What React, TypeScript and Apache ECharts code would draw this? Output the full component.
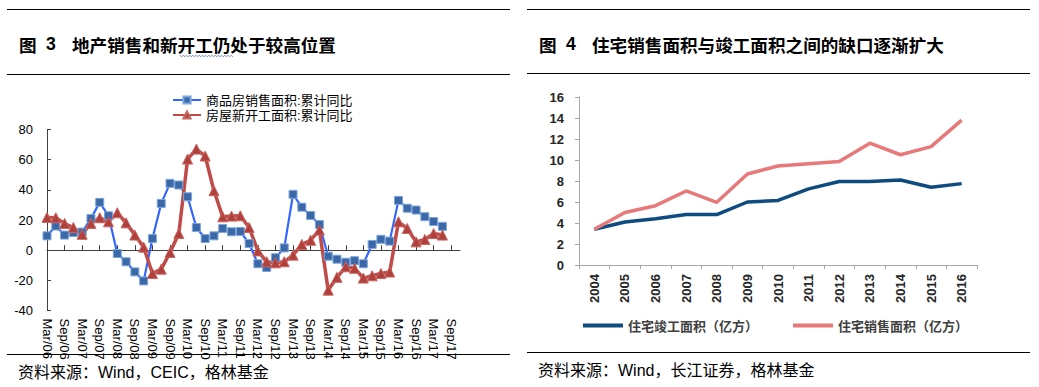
import { useEffect, useRef } from "react";
import * as echarts from "echarts";

// ---------- Data: Figure 3 (quarterly cumulative YoY, %) ----------
const quarterMonths = ["Mar", "Jun", "Sep", "Dec"];
const quarterYears = ["06", "07", "08", "09", "10", "11", "12", "13", "14", "15", "16", "17"];
const quarterCategories = quarterYears.flatMap((y) => quarterMonths.map((m) => `${m}/${y}`));

const salesSeriesName = "商品房销售面积:累计同比";
const startsSeriesName = "房屋新开工面积:累计同比";

const salesAreaYoY = [
  9.5, 16, 10, 11.7, 12, 21, 31.7, 22.8, -2.2, -7.7, -14.4, -20.4,
  7.7, 31, 44.3, 43.2, 35.4, 15, 7.7, 9.5, 14.4, 12.2, 12.4, 4.4,
  -9, -11.5, -5, 1.5, 37, 28.5, 23, 17, -4, -6, -8, -7,
  -9, 3.8, 7.2, 6, 33, 27.8, 26.6, 22.2, 19, 15.8,
];
const newStartsYoY = [
  21.7, 21.5, 17.7, 15, 10.5, 17.7, 21.5, 18.8, 24.8, 18.1, 10, 2,
  -15.5, -12.6, -1.5, 11, 60.4, 67, 62.4, 39.4, 22.1, 22.6, 22.8, 15,
  -0.5, -7.7, -8.4, -7.7, -3.3, 3.8, 6.6, 13.3, -26.5, -18, -11, -12,
  -18.5, -17, -15.5, -14.5, 18.8, 14.4, 5.5, 7.1, 11, 10,
];
const leftYMin = -40;
const leftYMax = 80;
const leftYStep = 20;

// ---------- Data: Figure 4 (annual, 亿方) ----------
const years = ["2004", "2005", "2006", "2007", "2008", "2009", "2010", "2011", "2012", "2013", "2014", "2015", "2016"];
const completedSeriesName = "住宅竣工面积（亿方）";
const soldSeriesName = "住宅销售面积（亿方）";
const completedArea = [3.4, 4.1, 4.4, 4.8, 4.8, 6.0, 6.15, 7.25, 7.95, 7.95, 8.1, 7.4, 7.75];
const soldArea = [3.4, 5.0, 5.65, 7.05, 5.97, 8.67, 9.43, 9.65, 9.85, 11.6, 10.5, 11.27, 13.8];
const rightYMin = 0;
const rightYMax = 16;
const rightYStep = 2;

// ---------- Texts ----------
const leftFigNo = ["图", "3"];
const leftTitle = "地产销售和新开工仍处于较高位置";
const rightFigNo = ["图", "4"];
const rightTitle = "住宅销售面积与竣工面积之间的缺口逐渐扩大";
const leftSource = "资料来源：Wind，CEIC，格林基金";
const rightSource = "资料来源：Wind，长江证券，格林基金";

const LATIN = "'Liberation Sans', 'Noto Sans CJK SC', sans-serif";
const CJK = "'Noto Sans CJK SC', 'Liberation Sans', sans-serif";

function hLine(x1: number, x2: number, y: number) {
  return {
    type: "line",
    silent: true,
    shape: { x1, y1: y, x2, y2: y },
    style: { stroke: "#000", lineWidth: 1 },
  };
}

function txt(x: number, y: number, text: string, size: number, bold: boolean, family = CJK) {
  return {
    type: "text",
    silent: true,
    x,
    y,
    style: {
      text,
      fontSize: size,
      fontWeight: bold ? "bold" : "normal",
      fontFamily: family,
      fill: "#000",
      verticalAlign: "middle",
      align: "left",
    },
  };
}

function wavy(x1: number, x2: number, y: number) {
  const pts: number[][] = [];
  let i = 0;
  for (let x = x1; x <= x2; x += 1.6) {
    pts.push([x, y + (i % 2 === 0 ? -0.9 : 0.9)]);
    i++;
  }
  return {
    type: "polyline",
    silent: true,
    shape: { points: pts },
    style: { stroke: "#6f8fd0", lineWidth: 0.9, fill: null },
  };
}

function leftLegend(name: string, top: number) {
  return {
    orient: "vertical",
    left: 172,
    top,
    padding: 0,
    itemWidth: 28,
    itemHeight: 9,
    data: [name],
    textStyle: { fontSize: 13, lineHeight: 13, color: "#000", fontFamily: LATIN },
    selectedMode: false,
  };
}

function buildOption() {
  return {
    animation: false,
    backgroundColor: "#fff",
    textStyle: { fontFamily: LATIN },
    graphic: [
      hLine(7, 510, 9.5),
      hLine(7, 510, 74.5),
      hLine(527, 1030, 9.5),
      hLine(527, 1030, 73.5),
      hLine(7, 510, 354.5),
      hLine(527, 1030, 352.5),
      txt(19, 44, leftFigNo[0], 17.6, true),
      txt(46, 44, leftFigNo[1], 17.6, true, LATIN),
      txt(72, 44, leftTitle, 17.6, true),
      wavy(180, 233, 56),
      txt(539, 44, rightFigNo[0], 17.6, true),
      txt(566, 44, rightFigNo[1], 17.6, true, LATIN),
      txt(592, 44, rightTitle, 17.6, true),
      txt(18, 372, leftSource, 16, false, LATIN),
      txt(538, 370, rightSource, 16, false, LATIN),
    ],
    legend: [
      leftLegend(salesSeriesName, 93.5),
      leftLegend(startsSeriesName, 108.5),
      {
        orient: "horizontal",
        left: 583,
        top: 319,
        padding: 0,
        itemWidth: 40,
        itemHeight: 4,
        itemGap: 35,
        data: [
          { name: completedSeriesName, icon: "rect" },
          { name: soldSeriesName, icon: "rect" },
        ],
        textStyle: { fontSize: 13, color: "#404040", fontWeight: "bold", fontFamily: CJK },
        selectedMode: false,
      },
    ],
    grid: [
      { left: 47, top: 129.5, width: 413, height: 181, containLabel: false, outerBoundsMode: "none" },
      { left: 579, top: 97, width: 398, height: 168, containLabel: false, outerBoundsMode: "none" },
    ],
    xAxis: [
      {
        type: "category",
        gridIndex: 0,
        data: quarterCategories,
        boundaryGap: false,
        axisLine: { show: true, onZero: true, lineStyle: { color: "#404040", width: 1 } },
        axisTick: { show: true, inside: true, length: 5, interval: 1, lineStyle: { color: "#404040" } },
        axisLabel: { interval: 1, rotate: -90, margin: 8, fontSize: 13, color: "#000", fontFamily: LATIN },
        splitLine: { show: false },
      },
      {
        type: "category",
        gridIndex: 1,
        data: years,
        boundaryGap: true,
        axisLine: { show: true, lineStyle: { color: "#A6A6A6", width: 1 } },
        axisTick: { show: true, inside: false, length: 4, interval: 0, lineStyle: { color: "#A6A6A6" } },
        axisLabel: { interval: 0, rotate: 90, margin: 9, fontSize: 13, fontWeight: "bold", color: "#262626", fontFamily: LATIN },
        splitLine: { show: false },
      },
    ],
    yAxis: [
      {
        type: "value",
        gridIndex: 0,
        min: leftYMin,
        max: leftYMax,
        interval: leftYStep,
        axisLine: { show: true, lineStyle: { color: "#404040", width: 1 } },
        axisTick: { show: true, inside: true, length: 4, lineStyle: { color: "#404040" } },
        axisLabel: { margin: 14, fontSize: 13, color: "#000", fontFamily: LATIN },
        splitLine: { show: false },
      },
      {
        type: "value",
        gridIndex: 1,
        min: rightYMin,
        max: rightYMax,
        interval: rightYStep,
        axisLine: { show: true, lineStyle: { color: "#A6A6A6", width: 1 } },
        axisTick: { show: true, inside: false, length: 4, lineStyle: { color: "#A6A6A6" } },
        axisLabel: { margin: 15, fontSize: 13, fontWeight: "bold", color: "#262626", fontFamily: LATIN },
        splitLine: { show: false },
      },
    ],
    series: [
      {
        name: salesSeriesName,
        type: "line",
        xAxisIndex: 0,
        yAxisIndex: 0,
        data: salesAreaYoY,
        symbol: "rect",
        symbolSize: 8,
        showAllSymbol: true,
        lineStyle: { color: "#3366FF", width: 2.2 },
        itemStyle: { color: "#3B68A6", borderColor: "#7FA6DC", borderWidth: 1 },
        emphasis: { disabled: true },
        silent: true,
      },
      {
        name: startsSeriesName,
        type: "line",
        xAxisIndex: 0,
        yAxisIndex: 0,
        data: newStartsYoY,
        symbol: "triangle",
        symbolSize: 10,
        showAllSymbol: true,
        lineStyle: { color: "#BE4B48", width: 3.5 },
        itemStyle: { color: "#B0403C", borderColor: "#C96360", borderWidth: 1 },
        emphasis: { disabled: true },
        silent: true,
      },
      {
        name: completedSeriesName,
        type: "line",
        xAxisIndex: 1,
        yAxisIndex: 1,
        data: completedArea,
        symbol: "none",
        lineStyle: { color: "#0E4C7F", width: 3.5 },
        itemStyle: { color: "#0E4C7F" },
        emphasis: { disabled: true },
        silent: true,
      },
      {
        name: soldSeriesName,
        type: "line",
        xAxisIndex: 1,
        yAxisIndex: 1,
        data: soldArea,
        symbol: "none",
        lineStyle: { color: "#E8797B", width: 3.5 },
        itemStyle: { color: "#E8797B" },
        emphasis: { disabled: true },
        silent: true,
      },
    ],
  };
}

export default function App() {
  const ref = useRef<HTMLDivElement>(null);
  useEffect(() => {
    if (!ref.current) return;
    const chart = echarts.init(ref.current, null, { renderer: "svg" });
    chart.setOption(buildOption() as any);
    return () => chart.dispose();
  }, []);
  return (
    <div
      ref={ref}
      style={{ position: "fixed", left: 0, top: 0, width: 1039, height: 387, background: "#fff" }}
    />
  );
}
